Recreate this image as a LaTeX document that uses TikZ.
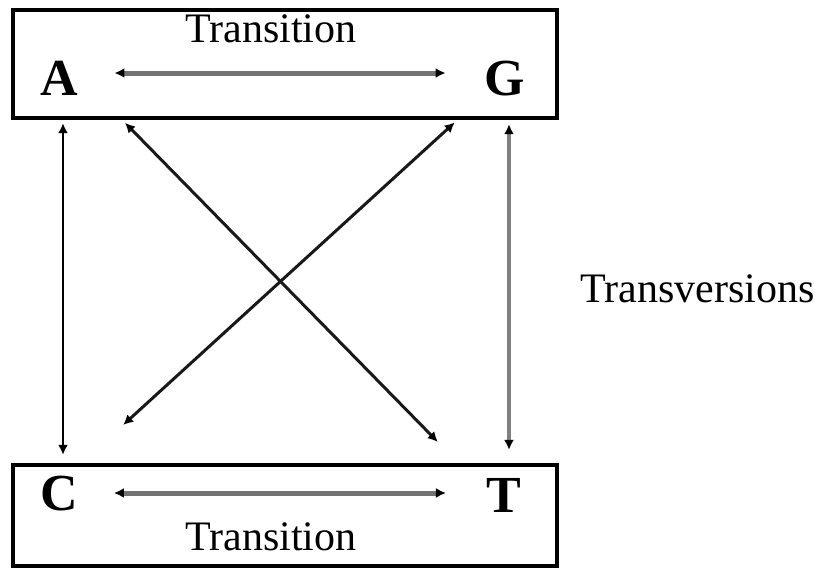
\documentclass[tikz,border=0pt]{standalone}
\usepackage{fontspec}
\setmainfont{Liberation Serif}
\usepackage{tikz}
\usetikzlibrary{arrows.meta, positioning, calc}

\tikzset{
    base/.style={inner sep=0pt, text height=35pt, text depth=0pt, font=\fontsize{52}{60}\selectfont\bfseries},
    lbl/.style={inner sep=0pt, font=\fontsize{42}{50}\selectfont},
    tip/.style={{Latex[length=10pt, width=10pt, color=black]}-{Latex[length=10pt, width=10pt, color=black]}},
}

\begin{document}
\begin{tikzpicture}[x=1pt, y=-1pt]
        \useasboundingbox (0, 0) rectangle (815, 568);

        % Boxes
        \draw[line width=3.5pt] (13, 10) rectangle (557, 118);
        \draw[line width=3.5pt] (13, 465) rectangle (557, 566);

        % Bases
        \node[base] (A) at (59, 77.5) {A};
        \node[base] (G) at (505, 77.5) {G};
        \node[base] (C) at (59, 493) {C};
        \node[base] (T) at (504, 495) {T};

        % Labels
        \node[lbl, anchor=base] (tr1) at (271, 42) {Transition};
        \node[lbl, anchor=base] (tr2) at (271, 550) {Transition};
        \node[lbl, anchor=base west] (tv) at (580, 302) {Transversions};

        % Transitions
        \draw[tip, line width=5pt, black!55, shorten <=36.5pt, shorten >=39pt]
            ([yshift=4.5pt]A.east) -- ([yshift=4.5pt]G.west);
        \draw[tip, line width=5pt, black!55, shorten <=36pt, shorten >=40.5pt]
            (C.east) -- ([yshift=2pt]T.west);

        % Transversions
        \draw[tip, line width=2.5pt, black, shorten <=28pt, shorten >=20.5pt]
            ([xshift=4pt]A.south) -- ([xshift=4pt]C.north);
        \draw[tip, line width=3.5pt, black!50, shorten <=29pt, shorten >=27.5pt]
            ([xshift=4pt]G.south) -- ([xshift=5pt]T.north);
        \draw[tip, line width=3pt, black!90, shorten <=38.6pt, shorten >=49.5pt]
            ([xshift=20pt]A.south east) -- ([xshift=-14pt]T.north west);
        \draw[tip, line width=3pt, black!90, shorten <=40.4pt, shorten >=74.7pt]
            (G.south west) -- ([xshift=-10pt]C.north east);
\end{tikzpicture}
\end{document}
